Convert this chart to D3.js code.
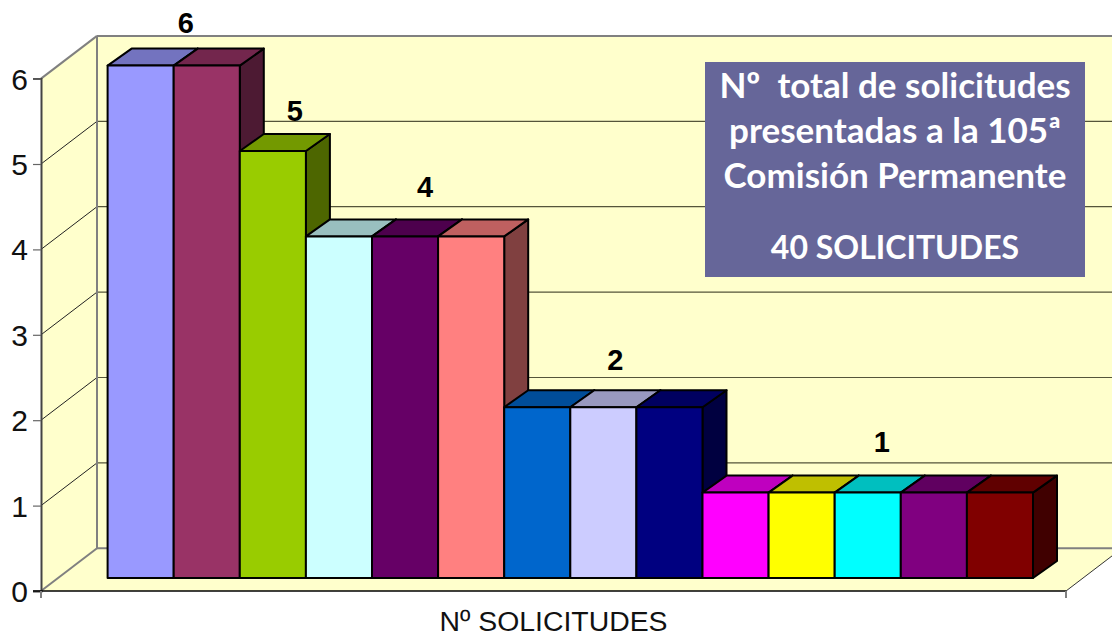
<!DOCTYPE html>
<html>
<head>
<meta charset="utf-8">
<script src="https://cdn.jsdelivr.net/npm/d3@7"></script>
<style>
    html, body { margin: 0; padding: 0; background: #fff; overflow: hidden; }
    text { font-family: "Liberation Sans", Arial, sans-serif; }
</style>
</head>
<body>
<div id="container"></div>
<script>
const width = 1112,
    height = 636

// values
const barIds = ["a", "b", "c", "d", "e", "f", "g", "h", "i", "j", "k", "l", "m", "n"]
const barValues = [6, 6, 5, 4, 4, 4, 2, 2, 2, 1, 1, 1, 1, 1]
const barColors = ["#9999FF", "#993366", "#99CC00", "#CCFFFF", "#660066", "#FF8080", "#0066CC",
    "#CCCCFF", "#000080", "#FF00FF", "#FFFF00", "#00FFFF", "#800080", "#800000"]
const yTicks = [0, 1, 2, 3, 4, 5, 6]
const axisTitle = "Nº SOLICITUDES"
const boxLines = ["Nº  total de solicitudes", "presentadas a la 105ª", "Comisión Permanente", "40 SOLICITUDES"]

// one label per group of equal bars
const labelValues = [6, 5, 4, 2, 1]
const labelFirstBar = ["a", "c", "d", "g", "j"]
const labelLastBar = ["b", "c", "f", "i", "n"]
const labelShift = [[12, -33], [22, -30], [20, -39], [12, -37], [14, -41]]

// 3d box of the chart
const wallDx = 56, wallDy = 42.7
const barDx = 24, barDy = 17, barInset = 13
const wallRight = 1112, floorRight = 1066

const xScale = d3.scaleBand()
    .domain(barIds)
    .range([107.6, 1033])

const yScale = d3.scaleLinear()
    .domain([0, 6])
    .range([591, 78.6])

const svg = d3.select("#container")
    .append("svg")
    .attr("width", width)
    .attr("height", height)
    .style("display", "block")

const left = 41
const backLeft = left + wallDx
const wallFill = "#FFFFCC"
const poly = pts => pts.map(p => p.join(",")).join(" ")

// WALLS
svg.append("polygon")
    .attr("points", poly([[backLeft, yScale(6) - wallDy], [wallRight, yScale(6) - wallDy],
        [wallRight, yScale(0) - wallDy], [backLeft, yScale(0) - wallDy]]))
    .attr("fill", wallFill)

svg.append("polygon")
    .attr("points", poly([[left, yScale(6)], [backLeft, yScale(6) - wallDy],
        [backLeft, yScale(0) - wallDy], [left, yScale(0)]]))
    .attr("fill", wallFill)

svg.append("polygon")
    .attr("points", poly([[left, yScale(0)], [backLeft, yScale(0) - wallDy], [wallRight, yScale(0) - wallDy],
        [wallRight, yScale(0) - (wallRight - floorRight) * wallDy / wallDx], [floorRight, yScale(0)]]))
    .attr("fill", wallFill)

// GRIDLINES
svg.selectAll("line.back")
    .data(yTicks.slice(1, 6))
    .join("line")
    .attr("class", "back")
    .attr("x1", backLeft)
    .attr("x2", wallRight)
    .attr("y1", d => yScale(d) - wallDy)
    .attr("y2", d => yScale(d) - wallDy)
    .attr("stroke", "#55553a")
    .attr("stroke-width", 1.2)

svg.selectAll("line.side")
    .data(yTicks.slice(1, 6))
    .join("line")
    .attr("class", "side")
    .attr("x1", left)
    .attr("x2", backLeft)
    .attr("y1", d => yScale(d))
    .attr("y2", d => yScale(d) - wallDy)
    .attr("stroke", "#222")
    .attr("stroke-width", 1)

// box edges in grey
const edges = [
    [left, yScale(6), backLeft, yScale(6) - wallDy],
    [backLeft, yScale(6) - wallDy, wallRight, yScale(6) - wallDy],
    [backLeft, yScale(6) - wallDy, backLeft, yScale(0) - wallDy],
    [left, yScale(0), backLeft, yScale(0) - wallDy],
    [backLeft, yScale(0) - wallDy, wallRight, yScale(0) - wallDy]
]
svg.selectAll("line.edge")
    .data(edges)
    .join("line")
    .attr("class", "edge")
    .attr("x1", d => d[0])
    .attr("y1", d => d[1])
    .attr("x2", d => d[2])
    .attr("y2", d => d[3])
    .attr("stroke", "#808080")
    .attr("stroke-width", 2)

// right floor edge
svg.append("line")
    .attr("x1", floorRight)
    .attr("y1", yScale(0))
    .attr("x2", wallRight)
    .attr("y2", yScale(0) - (wallRight - floorRight) * wallDy / wallDx)
    .attr("stroke", "#333")
    .attr("stroke-width", 1)

// BARS
const bars = barIds.map((id, i) => ({ id, value: barValues[i], color: barColors[i] }))
const shade = (c, k) => {
    const r = d3.rgb(c)
    return d3.rgb(r.r * k, r.g * k, r.b * k).formatHex()
}
const barX = d => xScale(d.id)
const barX2 = d => xScale(d.id) + xScale.bandwidth()
const barTop = d => yScale(d.value) - barInset
const barBase = yScale(0) - barInset

const bar = svg.selectAll("g.bar")
    .data(bars)
    .join("g")
    .attr("class", "bar")
    .attr("stroke", "#000")
    .attr("stroke-width", 2)
    .attr("stroke-linejoin", "round")

bar.append("polygon")
    .attr("points", d => poly([[barX2(d), barTop(d)], [barX2(d) + barDx, barTop(d) - barDy],
        [barX2(d) + barDx, barBase - barDy], [barX2(d), barBase]]))
    .attr("fill", d => shade(d.color, 0.5))

bar.append("polygon")
    .attr("points", d => poly([[barX(d), barTop(d)], [barX(d) + barDx, barTop(d) - barDy],
        [barX2(d) + barDx, barTop(d) - barDy], [barX2(d), barTop(d)]]))
    .attr("fill", d => shade(d.color, 0.75))

bar.append("rect")
    .attr("x", barX)
    .attr("y", barTop)
    .attr("width", xScale.bandwidth())
    .attr("height", d => barBase - barTop(d))
    .attr("fill", d => d.color)

// Y AXIS
const yAxis = d3.axisLeft(yScale)
    .tickValues(yTicks)
    .tickFormat(d3.format("d"))
    .tickSize(8)
    .tickPadding(5)

const yAxisG = svg.append("g")
    .attr("transform", `translate(${left},0)`)
    .call(yAxis)
yAxisG.select(".domain").attr("stroke", "#444").attr("stroke-width", 2)
yAxisG.selectAll(".tick line").attr("stroke", "#666").attr("stroke-width", 1.2)
yAxisG.selectAll(".tick text")
    .attr("font-size", 30)
    .attr("dy", "0.35em")
    .attr("fill", "#111")
    .style("font-family", '"Liberation Sans", Arial, sans-serif')

// X AXIS
svg.append("line")
    .attr("x1", left - 8)
    .attr("x2", floorRight)
    .attr("y1", yScale(0))
    .attr("y2", yScale(0))
    .attr("stroke", "#000")
    .attr("stroke-width", 1.5)

svg.selectAll("line.xtick")
    .data([left, floorRight])
    .join("line")
    .attr("class", "xtick")
    .attr("x1", d => d)
    .attr("x2", d => d)
    .attr("y1", yScale(0))
    .attr("y2", yScale(0) + 7)
    .attr("stroke", "#808080")
    .attr("stroke-width", 2)

svg.append("text")
    .attr("x", 553.5)
    .attr("y", 631)
    .attr("text-anchor", "middle")
    .attr("font-size", 28.4)
    .attr("fill", "#111")
    .text(axisTitle)

// VALUE LABELS
svg.selectAll("text.value")
    .data(labelValues)
    .join("text")
    .attr("class", "value")
    .attr("x", (d, i) => (xScale(labelFirstBar[i]) + xScale(labelLastBar[i]) + xScale.bandwidth()) / 2 + labelShift[i][0])
    .attr("y", (d, i) => yScale(d) - barInset + labelShift[i][1])
    .attr("text-anchor", "middle")
    .attr("font-size", 29)
    .attr("font-weight", "bold")
    .attr("fill", "#000")
    .text(d => d)

// TEXT BOX
svg.append("rect")
    .attr("x", 705)
    .attr("y", 62)
    .attr("width", 380)
    .attr("height", 215)
    .attr("fill", "#666699")

const boxBaselines = [98, 143, 188, 259]
const boxSizes = [35, 35, 35, 32]
svg.selectAll("text.box")
    .data(boxLines)
    .join("text")
    .attr("class", "box")
    .attr("x", 895)
    .attr("y", (d, i) => boxBaselines[i])
    .attr("text-anchor", "middle")
    .attr("font-size", (d, i) => boxSizes[i])
    .attr("font-weight", "bold")
    .attr("fill", "#fff")
    .style("font-family", "Lato, sans-serif")
    .style("white-space", "pre")
    .text(d => d)
</script>
</body>
</html>
